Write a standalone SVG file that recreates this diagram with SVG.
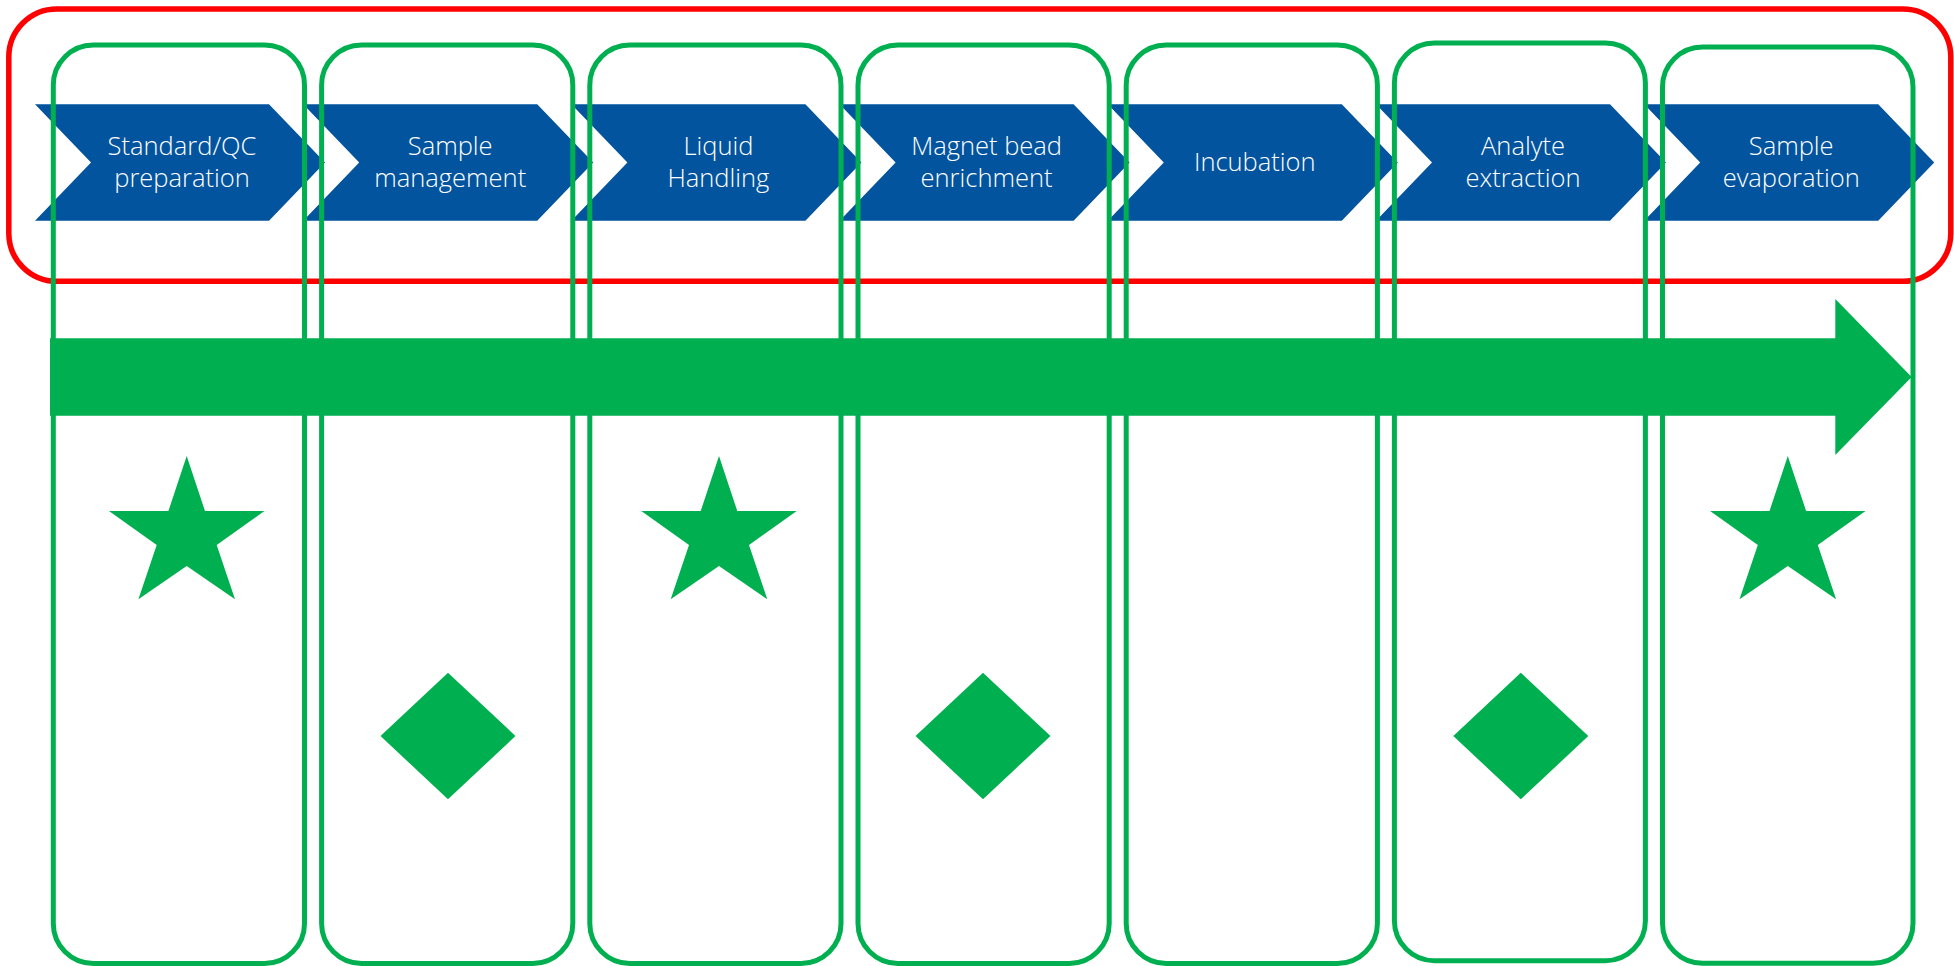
<svg xmlns="http://www.w3.org/2000/svg" xmlns:xlink="http://www.w3.org/1999/xlink" width="1954" height="966" viewBox="0 0 1954 966">
  <style>
    .frame { fill: none; stroke: #FF0000; stroke-width: 5.5; }
    .step { fill: #03549E; }
    .label { fill: #FFFFFF; font-family: "Open Sans", "Noto Sans", sans-serif; font-size: 25.5px; font-weight: 300; text-anchor: middle; }
    .column { fill: none; stroke: #00B050; stroke-width: 5; }
    .mark { fill: #00B050; }
    .flow { fill: #00B050; }
  </style>
  <defs>
    <!-- step chevron, left edge at x=0 -->
    <path id="chevron" d="M0,104.3 H234 L290,162.5 L234,220.7 H0 L56,162.5 Z"/>
    <!-- five-point star, centred on x=0 -->
    <path id="star" d="M0,456 L18.3,511 L77.7,511 L30,545 L48.3,599.3 L0,566 L-48.3,599.3 L-30,545 L-77.7,511 L-18.3,511 Z"/>
    <!-- diamond, centred on x=0 -->
    <path id="diamond" d="M0,672.7 L67.5,736 L0,799.3 L-67.5,736 Z"/>
  </defs>

  <rect id="process-frame" class="frame" x="8.8" y="9" width="1942" height="272.3" rx="48" ry="48"/>

  <!-- process steps -->
  <g id="step-1">
    <use xlink:href="#chevron" class="step" x="35"/>
    <text class="label" x="182" y="155">Standard/QC</text>
    <text class="label" x="182" y="187">preparation</text>
  </g>
  <g id="step-2">
    <use xlink:href="#chevron" class="step" x="303.2"/>
    <text class="label" x="450.2" y="155">Sample</text>
    <text class="label" x="450.2" y="187">management</text>
  </g>
  <g id="step-3">
    <use xlink:href="#chevron" class="step" x="571.4"/>
    <text class="label" x="718.4" y="155">Liquid</text>
    <text class="label" x="718.4" y="187">Handling</text>
  </g>
  <g id="step-4">
    <use xlink:href="#chevron" class="step" x="839.6"/>
    <text class="label" x="986.6" y="155">Magnet bead</text>
    <text class="label" x="986.6" y="187">enrichment</text>
  </g>
  <g id="step-5">
    <use xlink:href="#chevron" class="step" x="1107.8"/>
    <text class="label" x="1254.8" y="171">Incubation</text>
  </g>
  <g id="step-6">
    <use xlink:href="#chevron" class="step" x="1376"/>
    <text class="label" x="1523" y="155">Analyte</text>
    <text class="label" x="1523" y="187">extraction</text>
  </g>
  <g id="step-7">
    <use xlink:href="#chevron" class="step" x="1644.2"/>
    <text class="label" x="1791.2" y="155">Sample</text>
    <text class="label" x="1791.2" y="187">evaporation</text>
  </g>

  <!-- timeline arrow -->
  <g id="connectors">
    <path id="flow-arrow" class="flow" d="M50,338.3 H1835.3 V299 L1911.7,377 L1835.3,455 V415.7 H50 Z"/>
  </g>

  <!-- markers -->
  <g id="marker-1"><use xlink:href="#star" class="mark" x="186.7"/></g>
  <g id="marker-2"><use xlink:href="#diamond" class="mark" x="448"/></g>
  <g id="marker-3"><use xlink:href="#star" class="mark" x="719"/></g>
  <g id="marker-4"><use xlink:href="#diamond" class="mark" x="983"/></g>
  <g id="marker-5"><use xlink:href="#star" class="mark" x="1787.8"/></g>
  <g id="marker-6"><use xlink:href="#diamond" class="mark" x="1520.8"/></g>

  <!-- columns -->
  <g id="column-1"><rect class="column" x="53.3" y="45" width="251.2" height="918.5" rx="40" ry="40"/></g>
  <g id="column-2"><rect class="column" x="321.6" y="45" width="251.2" height="918.5" rx="40" ry="40"/></g>
  <g id="column-3"><rect class="column" x="589.8" y="45" width="251.2" height="918.5" rx="40" ry="40"/></g>
  <g id="column-4"><rect class="column" x="858" y="45" width="251.2" height="918.5" rx="40" ry="40"/></g>
  <g id="column-5"><rect class="column" x="1126.2" y="45" width="251.2" height="918.5" rx="40" ry="40"/></g>
  <g id="column-6"><rect class="column" x="1394.4" y="43" width="251" height="917.7" rx="40" ry="40"/></g>
  <g id="column-7"><rect class="column" x="1662.5" y="47" width="250.5" height="916.3" rx="40" ry="40"/></g>
</svg>
